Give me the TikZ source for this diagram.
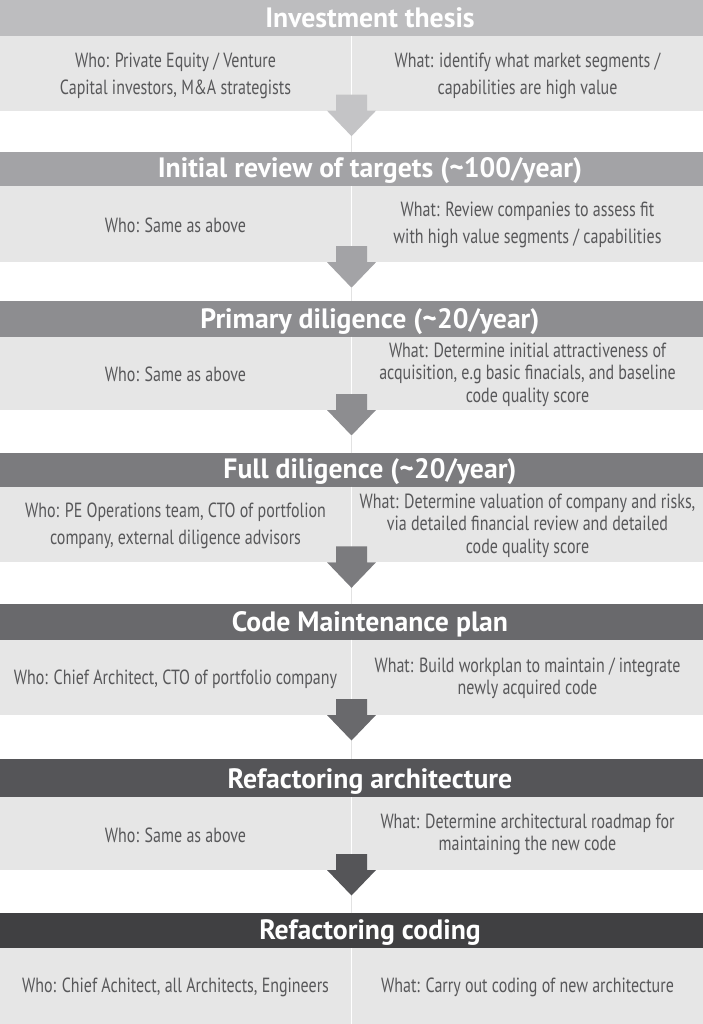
\documentclass[tikz,border=0pt]{standalone}
\usepackage{fontspec}
\newfontfamily\bodyfont{PT Sans}[FakeStretch=0.78]
\newfontfamily\headfont{PT Sans}[FakeStretch=0.99]
\usetikzlibrary{calc}

\definecolor{hA}{HTML}{BDBDBF}
\definecolor{hB}{HTML}{A3A3A6}
\definecolor{hC}{HTML}{8D8D90}
\definecolor{hD}{HTML}{7B7B7E}
\definecolor{hE}{HTML}{69696C}
\definecolor{hF}{HTML}{555558}
\definecolor{hG}{HTML}{404042}
\definecolor{arA}{HTML}{C4C4C6}
\definecolor{bodygray}{HTML}{E6E6E6}
\definecolor{textgray}{HTML}{58585A}
\definecolor{guidegray}{HTML}{E2E2E2}

\begin{document}
\begin{tikzpicture}[x=1pt,y=-1pt,
  band/.style={rectangle, inner sep=0pt, outer sep=0pt, minimum width=703pt, anchor=north},
  headband/.style={band, fill=#1},
  bodyband/.style={band, fill=bodygray},
  title/.style={anchor=base, text=white, inner sep=0pt,
    font=\headfont\bfseries\fontsize{28}{32}\selectfont},
  cell/.style={align=center, text=textgray, inner sep=0pt,
    font=\bodyfont\fontsize{20.5}{27}\selectfont},
  tight/.style={font=\bodyfont\fontsize{20.5}{22.5}\selectfont},
  divider/.style={white, line width=1.2pt},
  guide/.style={draw=guidegray, line width=0.8pt}
]
\useasboundingbox (0,0) rectangle (703,1024);

% ---- stage bands: header bar + light body ----
\node[headband=hA, minimum height=36.3pt] (h1) at (351.5,0) {};
\node[bodyband, minimum height=74.4pt] (b1) at (h1.south) {};
\node[headband=hB, minimum height=34.5pt] (h2) at (351.5,152) {};
\node[bodyband, minimum height=75.7pt] (b2) at (h2.south) {};
\node[headband=hC, minimum height=36pt] (h3) at (351.5,300.5) {};
\node[bodyband, minimum height=73.5pt] (b3) at (h3.south) {};
\node[headband=hD, minimum height=34pt] (h4) at (351.5,452.5) {};
\node[bodyband, minimum height=75.8pt] (b4) at (h4.south) {};
\node[headband=hE, minimum height=35.2pt] (h5) at (351.5,604.3) {};
\node[bodyband, minimum height=75.5pt] (b5) at (h5.south) {};
\node[headband=hF, minimum height=37.7pt] (h6) at (351.5,759.3) {};
\node[bodyband, minimum height=73pt] (b6) at (h6.south) {};
\node[headband=hG, minimum height=35pt] (h7) at (351.5,913.3) {};
\node[bodyband, minimum height=75.7pt] (b7) at (h7.south) {};

% column dividers
\foreach \b in {b1,b2,b3,b4,b5,b6,b7}
  \draw[divider] (\b.north) -- (\b.south);

% ---- titles ----
\node[title] (t1) at ($(h1.south)+(18.5,-8.5)$) {Investment thesis};
\node[title] (t2) at ($(h2.south)+(18.5,-8.5)$) {Initial review of targets (\textasciitilde 100/year)};
\node[title] (t3) at ($(h3.south)+(18.5,-8.5)$) {Primary diligence (\textasciitilde 20/year)};
\node[title] (t4) at ($(h4.south)+(18.5,-8.5)$) {Full diligence (\textasciitilde 20/year)};
\node[title] (t5) at ($(h5.south)+(18.5,-8.5)$) {Code Maintenance plan};
\node[title] (t6) at ($(h6.south)+(18.5,-8.5)$) {Refactoring architecture};
\node[title] (t7) at ($(h7.south)+(18.5,-8.5)$) {Refactoring coding};

% ---- who / what cells ----
\node[cell] (w1) at ($(b1.center)+(-176,2)$) {Who: Private Equity / Venture\\Capital investors, M\&A strategists};
\node[cell] (r1) at ($(b1.center)+(176,2)$) {What: identify what market segments /\\capabilities are high value};
\node[cell] (w2) at ($(b2.center)+(-176,1)$) {Who: Same as above};
\node[cell] (r2) at ($(b2.center)+(176,1)$) {What: Review companies to assess fit\\with high value segments / capabilities};
\node[cell] (w3) at ($(b3.center)+(-176,1)$) {Who: Same as above};
\node[cell, tight] (r3) at ($(b3.center)+(176,1.5)$) {What: Determine initial attractiveness of\\acquisition, e.g basic finacials, and baseline\\code quality score};
\node[cell] (w4) at ($(b4.center)+(-176,1)$) {Who: PE Operations team, CTO of portfolion\\company, external diligence advisors};
\node[cell, tight] (r4) at ($(b4.center)+(176,1)$) {What: Determine valuation of company and risks,\\via detailed financial review and detailed\\code quality score};
\node[cell] (w5) at ($(b5.center)+(-176,2)$) {Who: Chief Architect, CTO of portfolio company};
\node[cell, tight] (r5) at ($(b5.center)+(176,1)$) {What: Build workplan to maintain / integrate\\newly acquired code};
\node[cell] (w6) at ($(b6.center)+(-176,2)$) {Who: Same as above};
\node[cell, tight] (r6) at ($(b6.center)+(176,1)$) {What: Determine architectural roadmap for\\maintaining the new code};
\node[cell] (w7) at ($(b7.center)+(-176,1)$) {Who: Chief Achitect, all Architects, Engineers};
\node[cell] (r7) at ($(b7.center)+(176,1)$) {What: Carry out coding of new architecture};

% ---- block arrows between stages ----
\foreach \from/\to/\col in {b1/h2/arA, b2/h3/hB, b3/h4/hC, b4/h5/hD, b5/h6/hE, b6/h7/hF} {
  \draw[guide] ($(\from.south)+(0,25.5)$) -- (\to.north);
  \fill[\col] ($(\from.south)+(-15.5,-16)$) -- ($(\from.south)+(15.5,-16)$)
    -- ($(\from.south)+(15.5,0)$) -- ($(\from.south)+(24.5,0)$)
    -- ($(\from.south)+(0,25.5)$) -- ($(\from.south)+(-24.5,0)$)
    -- ($(\from.south)+(-15.5,0)$) -- cycle;
}
\end{tikzpicture}
\end{document}
